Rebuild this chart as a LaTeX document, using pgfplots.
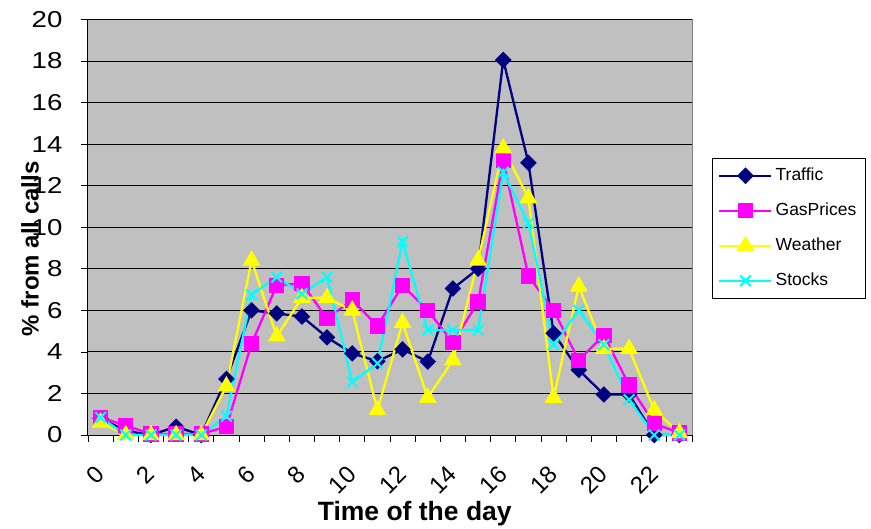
\documentclass[border=0pt]{standalone}
\usepackage{pgfplots}
\pgfplotsset{compat=1.18}
\usepackage{fontspec}
\setmainfont{Liberation Sans}
\definecolor{excelgray}{HTML}{C0C0C0}
\definecolor{trafficc}{HTML}{000080}
\definecolor{gasc}{HTML}{FF00FF}
\definecolor{weatherc}{HTML}{FFFF00}
\definecolor{stocksc}{HTML}{00FFFF}
\begin{document}
\begin{tikzpicture}
\useasboundingbox (0pt,0pt) rectangle (871pt,528pt);
\begin{axis}[
  at={(88pt,93pt)}, anchor=south west,
  scale only axis, width=604pt, height=415.5pt,
  xmin=0, xmax=24, ymin=0, ymax=20,
  clip=false,
  axis x line*=bottom, axis y line*=left,
  axis line style={black, line width=1pt},
  axis background/.style={fill=excelgray, draw=gray, line width=1pt},
  ytick={0,2,...,20},
  ymajorgrids, grid style={black, line width=0.9pt},
  xtick={0.5,2.5,...,22.5},
  xticklabels={0,2,4,6,8,10,12,14,16,18,20,22},
  minor xtick={0,...,24},
  tick align=outside,
  major tick length=7pt, minor tick length=7pt,
  every major x tick/.append style={draw=none},
  every tick/.append style={black, line width=0.8pt},
  /pgf/number format/assume math mode=true,
  xticklabel style={font=\fontsize{24}{28}\selectfont, yshift=-26pt, xshift=2pt, rotate=45, anchor=east},
  yticklabel style={font=\fontsize{23}{27}\selectfont, xscale=1.2, xshift=-12pt},
  ylabel={\% from all calls},
  xlabel={Time of the day},
  ylabel style={font=\bfseries\fontsize{24}{28}\selectfont, at={(axis description cs:-0.096,0.448)}, anchor=center},
  xlabel style={font=\bfseries\fontsize{26.5}{30}\selectfont, at={(axis description cs:0.541,-0.19)}, anchor=center},
  legend style={at={(rel axis cs:1.033,0.667)}, anchor=north west,
    draw=black, fill=white, line width=0.8pt,
    font=\fontsize{17.5}{21}\selectfont,
    inner xsep=6pt, inner ysep=6.5pt,
    nodes={inner sep=3pt, text height=12.5pt, text depth=3.5pt},
    row sep=13pt},
  legend cell align=left,
  legend image code/.code={\draw[mark repeat=2,mark phase=2,#1] plot coordinates {(0pt,0pt) (26pt,0pt) (52pt,0pt)};},
  every axis plot/.append style={line width=2.3pt},
]
\addplot[trafficc, mark=square*, mark size=4.7pt, mark options={rotate=45, solid}] coordinates {
(0.5,0.8) (1.5,0.2) (2.5,0) (3.5,0.4) (4.5,0) (5.5,2.7) (6.5,6.0) (7.5,5.85)
(8.5,5.7) (9.5,4.7) (10.5,3.93) (11.5,3.55) (12.5,4.12) (13.5,3.53) (14.5,7.05) (15.5,8.0)
(16.5,18.05) (17.5,13.1) (18.5,4.9) (19.5,3.13) (20.5,1.95) (21.5,1.95) (22.5,0) (23.5,0)};
\addlegendentry{Traffic}
\addplot[gasc, mark=square*, mark size=6.5pt] coordinates {
(0.5,0.85) (1.5,0.45) (2.5,0.05) (3.5,0.05) (4.5,0.05) (5.5,0.4) (6.5,4.4) (7.5,7.2)
(8.5,7.3) (9.5,5.6) (10.5,6.5) (11.5,5.25) (12.5,7.2) (13.5,6.0) (14.5,4.45) (15.5,6.4)
(16.5,13.2) (17.5,7.65) (18.5,6.0) (19.5,3.6) (20.5,4.8) (21.5,2.4) (22.5,0.55) (23.5,0.1)};
\addlegendentry{GasPrices}
\addplot[weatherc, mark=triangle*, mark size=8pt] coordinates {
(0.5,0.6) (1.5,0) (2.5,0) (3.5,0) (4.5,0) (5.5,2.35) (6.5,8.4) (7.5,4.75)
(8.5,6.6) (9.5,6.6) (10.5,6.0) (11.5,1.2) (12.5,5.4) (13.5,1.8) (14.5,3.6) (15.5,8.4)
(16.5,13.8) (17.5,11.4) (18.5,1.8) (19.5,7.15) (20.5,4.15) (21.5,4.15) (22.5,1.2) (23.5,0.1)};
\addlegendentry{Weather}
\addplot[stocksc, mark=x, mark size=7.5pt, mark options={line width=2pt}] coordinates {
(0.5,0.85) (1.5,0) (2.5,0) (3.5,0) (4.5,0) (5.5,0.9) (6.5,6.75) (7.5,7.6)
(8.5,6.8) (9.5,7.6) (10.5,2.55) (11.5,3.45) (12.5,9.3) (13.5,5.05) (14.5,5.05) (15.5,5.05)
(16.5,12.65) (17.5,10.2) (18.5,4.35) (19.5,6.0) (20.5,4.35) (21.5,1.7) (22.5,0) (23.5,0)};
\addlegendentry{Stocks}
\end{axis}
\end{tikzpicture}
\end{document}
